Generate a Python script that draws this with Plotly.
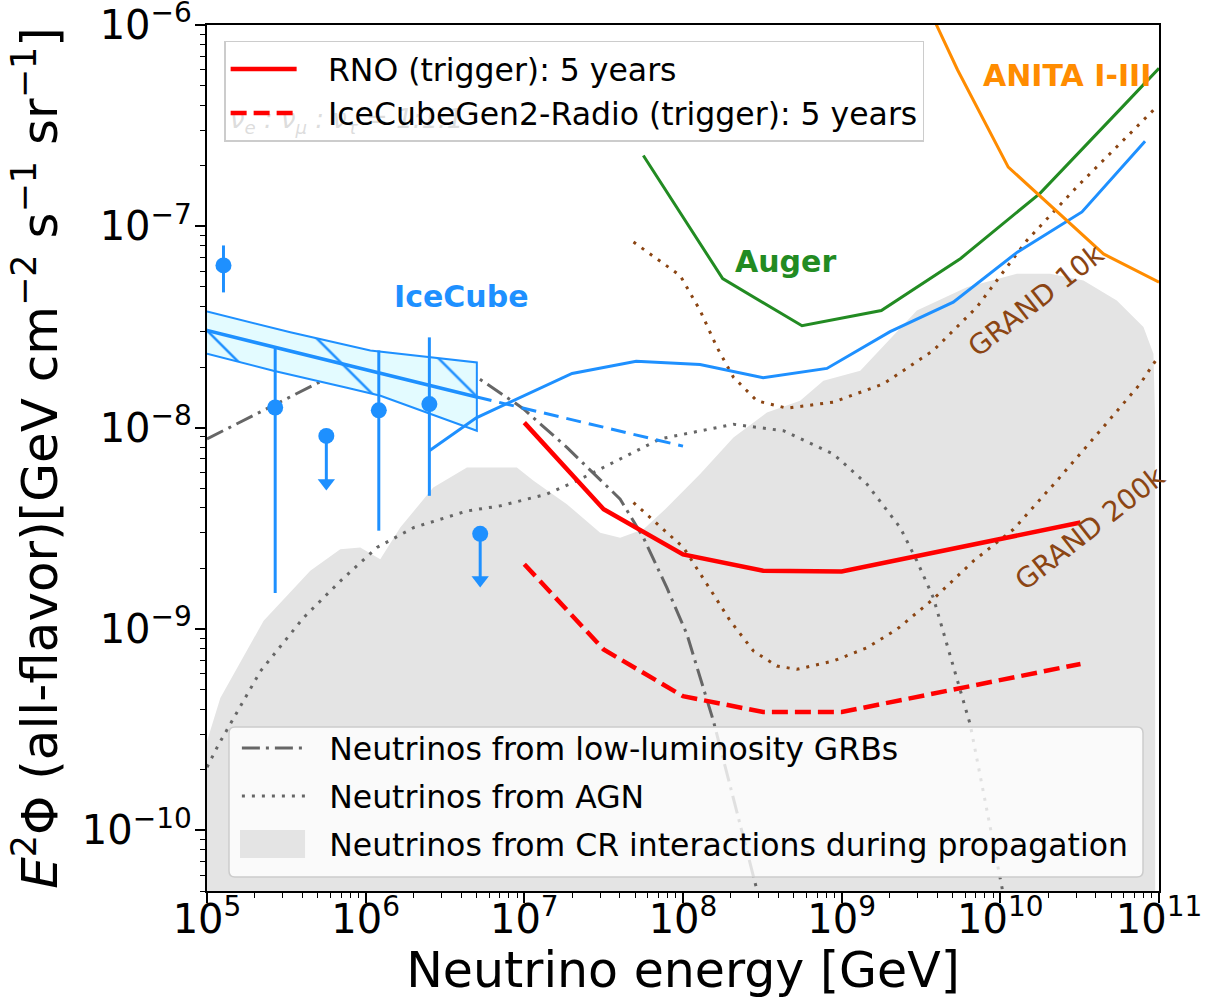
import numpy as np
import plotly.graph_objects as go

# ---------------- data ----------------
# IceCube measured points with error bars
ic_pts_E = [1.27e5, 2.69e5, 1.21e6, 2.52e6]
ic_pts_F = [6.4e-8, 1.26e-8, 1.22e-8, 1.31e-8]
ic_pts_hi = [8.04e-8, 2.47e-8, 2.42e-8, 2.81e-8]
ic_pts_lo = [4.70e-8, 1.51e-9, 3.08e-9, 4.59e-9]
# IceCube upper limits (value, arrow tip)
ic_ul_E = [5.65e5, 5.27e6]
ic_ul_F = [9.1e-9, 2.97e-9]
ic_ul_arrow = [5.32e-9, 1.75e-9]

# IceCube astrophysical fit band
band_up_E = [1e5, 3.35e5, 1.07e6, 5.02e6]
band_up_F = [3.78e-8, 2.98e-8, 2.42e-8, 2.11e-8]
band_lo_E = [1e5, 2.62e5, 7.62e5, 1.24e6, 5.02e6]
band_lo_F = [2.33e-8, 1.92e-8, 1.58e-8, 1.44e-8, 9.66e-9]
fit_E = [1e5, 5.02e6]
fit_F = [3.04e-8, 1.42e-8]
fit_ext_E = [5.02e6, 1e8]
fit_ext_F = [1.42e-8, 8.1e-9]

# IceCube EHE limit
ehe_E = [2.52e6, 4.98e6, 2.0e7, 5.07e7, 1.28e8, 3.2e8, 8.07e8, 2.02e9, 5.05e9, 1.28e10, 3.27e10, 8.17e10]
ehe_F = [7.69e-9, 1.12e-8, 1.86e-8, 2.14e-8, 2.06e-8, 1.77e-8, 1.97e-8, 3.0e-8, 4.2e-8, 7.45e-8, 1.18e-7, 2.65e-7]

# Auger limit
auger_E = [10**7.75, 10**8.25, 10**8.75, 10**9.25, 10**9.75, 10**10.25, 10**10.75, 1e11]
auger_F = [2.25e-7, 5.5e-8, 3.21e-8, 3.82e-8, 6.93e-8, 1.46e-7, 3.78e-7, 6.1e-7]

# ANITA I-III limit
anita_E = [10**9.5, 10**9.73, 10**10.05, 10**10.65, 1e11]
anita_F = [1.46e-6, 6.0e-7, 1.97e-7, 7.3e-8, 5.28e-8]

# RNO and IceCube-Gen2 radio sensitivities
rno_E = [1e7, 3.16e7, 1e8, 3.2e8, 1e9, 3.2e10]
rno_F = [1.06e-8, 3.94e-9, 2.35e-9, 1.95e-9, 1.93e-9, 3.38e-9]
gen2_E = [1e7, 3.16e7, 1e8, 3.2e8, 1e9, 3.2e10]
gen2_F = [2.10e-9, 7.92e-10, 4.64e-10, 3.87e-10, 3.87e-10, 6.71e-10]

# GRAND sensitivities
grand10k_E = [10**7.688, 10**7.982, 10**8.108, 10**8.214, 10**8.318, 10**8.466, 10**8.655,
              10**8.948, 10**9.263, 10**9.578, 10**9.852, 10**10.167, 10**10.482, 10**10.797, 10**10.986]
grand10k_F = [8.36e-8, 5.70e-8, 3.82e-8, 2.51e-8, 1.78e-8, 1.36e-8, 1.25e-8,
              1.34e-8, 1.65e-8, 2.42e-8, 3.97e-8, 8.51e-8, 1.57e-7, 2.78e-7, 3.93e-7]
grand200k_E = [10**7.688, 10**8.003, 10**8.151, 10**8.297, 10**8.444, 10**8.592, 10**8.718,
               10**8.948, 10**9.159, 10**9.348, 10**9.578, 10**9.831, 10**10.083, 10**10.356,
               10**10.629, 10**10.881, 1e11]
grand200k_F = [4.25e-9, 2.54e-9, 1.67e-9, 1.10e-9, 7.78e-10, 6.55e-10, 6.31e-10,
               6.94e-10, 8.07e-10, 9.97e-10, 1.41e-9, 2.18e-9, 3.13e-9, 5.45e-9,
               9.66e-9, 1.65e-8, 2.28e-8]

# Neutrinos from low-luminosity GRBs
grb_E = [1e5, 10**5.725, 10**6.218, 10**6.701, 10**6.922, 10**6.995, 10**7.268, 10**7.604,
         10**7.751, 10**7.899, 10**8.025, 10**8.192, 10**8.55]
grb_F = [8.8e-9, 1.71e-8, 1.88e-8, 1.78e-8, 1.36e-8, 1.24e-8, 7.98e-9, 4.42e-9,
         2.84e-9, 1.60e-9, 9.41e-10, 3.49e-10, 2.8e-11]

# Neutrinos from AGN
agn_E = [1e5, 10**5.073, 10**5.337, 10**5.609, 10**5.84, 10**6.071, 10**6.302, 10**6.638,
         10**6.848, 10**7.142, 10**7.331, 10**7.856, 10**8.318, 10**8.633, 10**8.948,
         10**9.159, 10**9.369, 10**9.474, 10**9.578, 10**9.684, 10**9.81, 10**10.011, 10**10.04]
agn_F = [2.06e-10, 2.67e-10, 6.18e-10, 1.14e-9, 1.73e-9, 2.54e-9, 3.19e-9, 3.86e-9,
         4.09e-9, 4.68e-9, 5.45e-9, 8.8e-9, 1.04e-8, 9.66e-9, 7.40e-9,
         5.25e-9, 3.19e-9, 2.18e-9, 1.43e-9, 7.48e-10, 3.36e-10, 5.17e-11, 3.5e-11]

# Neutrinos from CR interactions during propagation (upper edge of shaded band)
cr_E = [1e5, 10**5.084, 10**5.357, 10**5.651, 10**5.84, 10**5.966, 10**6.092, 10**6.218,
        10**6.426, 10**6.638, 10**6.953, 10**7.058, 10**7.268, 10**7.478, 10**7.604,
        10**7.751, 10**7.899, 10**8.108, 10**8.318, 10**8.529, 10**8.738, 10**8.885,
        10**9.117, 10**9.474, 10**9.789, 10**10.104, 10**10.314, 10**10.524, 10**10.734,
        10**10.902, 10**10.965, 10**10.976]
cr_F = [2.77e-10, 4.54e-10, 1.10e-9, 1.95e-9, 2.49e-9, 2.54e-9, 2.22e-9, 3.19e-9,
        5.05e-9, 6.35e-9, 6.35e-9, 5.45e-9, 4.17e-9, 3.01e-9, 2.84e-9,
        3.13e-9, 4.01e-9, 5.89e-9, 8.95e-9, 1.19e-8, 1.36e-8, 1.71e-8,
        1.92e-8, 3.82e-8, 4.99e-8, 5.82e-8, 5.82e-8, 5.39e-8, 4.28e-8,
        3.16e-8, 2.33e-8, 1.08e-8]
cr_floor = 1e-12

# text labels: (text, E, flux)
lbl_icecube = ("IceCube", 10**6.602, 10**-7.348)
lbl_auger = ("Auger", 10**8.644, 10**-7.174)
lbl_anita = ("ANITA I-III", 10**10.421, 10**-6.249)
lbl_g10k = ("GRAND 10k", 10**10.225, 10**-7.37)
lbl_g200k = ("GRAND 200k", 10**10.566, 10**-8.502)
lbl_flavor = ("<i>ν<sub>e</sub> : ν<sub>μ</sub> : ν<sub>τ</sub> = 1:1:1</i>", 10**5.88, 10**-6.48)

# legend names
name_rno = "RNO (trigger): 5 years"
name_gen2 = "IceCubeGen2-Radio (trigger): 5 years"
name_grb = "Neutrinos from low-luminosity GRBs"
name_agn = "Neutrinos from AGN"
name_cr = "Neutrinos from CR interactions during propagation"

# ---------------- styles ----------------
BLUE = "#1E90FF"
RED = "#FF0000"
GREEN = "#228B22"
ORANGE = "#FF8C00"
BROWN = "#8B4513"
GREY = "#666666"
CRGREY = "#e4e4e4"
FONT = "DejaVu Sans"
PAD = "\u00a0\u00a0\u2009"   # gap between legend sample and text (upper legend)
PAD2 = "\u00a0\u2009"        # gap for the lower legend

fig = go.Figure()

# flavour-ratio note (sits in the plot layer, beneath the translucent legend)
fig.add_trace(go.Scatter(
    x=[lbl_flavor[1]], y=[lbl_flavor[2]], mode="text", text=[lbl_flavor[0]],
    textposition="middle center", textfont=dict(family=FONT, size=26, color="#555555"),
    showlegend=False, hoverinfo="skip"))

# CR band
fig.add_trace(go.Scatter(
    x=cr_E + [cr_E[-1], cr_E[0]], y=cr_F + [cr_floor, cr_floor],
    mode="lines", fill="toself", fillcolor=CRGREY, line=dict(width=0, color=CRGREY),
    showlegend=False, hoverinfo="skip"))

# GRB
fig.add_trace(go.Scatter(
    x=grb_E, y=grb_F, mode="lines",
    line=dict(color=GREY, width=3, dash="18px,6px,3px,6px"),
    name=PAD2 + name_grb, legend="legend2", legendrank=1, legendgroup="a"))

# AGN
fig.add_trace(go.Scatter(
    x=agn_E, y=agn_F, mode="lines",
    line=dict(color=GREY, width=3, dash="3px,7px"),
    name=PAD2 + name_agn, legend="legend2", legendrank=2, legendgroup="b"))

# legend entry for the CR band (its swatch is the grey box drawn as a shape below)
fig.add_trace(go.Scatter(
    x=[None], y=[None], mode="lines", line=dict(color="rgba(0,0,0,0)", width=10),
    name=PAD2 + name_cr, legend="legend2", legendrank=3, legendgroup="c"))

# GRAND
fig.add_trace(go.Scatter(x=grand10k_E, y=grand10k_F, mode="lines",
                         line=dict(color=BROWN, width=3, dash="3px,7px"), showlegend=False))
fig.add_trace(go.Scatter(x=grand200k_E, y=grand200k_F, mode="lines",
                         line=dict(color=BROWN, width=3, dash="3px,7px"), showlegend=False))

# IceCube band
fig.add_trace(go.Scatter(
    x=band_up_E + band_lo_E[::-1], y=band_up_F + band_lo_F[::-1],
    mode="lines", fill="toself", fillcolor="#e3fbff",
    fillpattern=dict(shape="\\", fgcolor=BLUE, bgcolor="#e3fbff", size=72, solidity=0.035, fillmode="replace"),
    line=dict(color=BLUE, width=2), showlegend=False))
fig.add_trace(go.Scatter(x=fit_E, y=fit_F, mode="lines", line=dict(color=BLUE, width=3.5), showlegend=False))
fig.add_trace(go.Scatter(x=fit_ext_E, y=fit_ext_F, mode="lines",
                         line=dict(color=BLUE, width=3, dash="15px,8px"), showlegend=False))

# IceCube EHE
fig.add_trace(go.Scatter(x=ehe_E, y=ehe_F, mode="lines", line=dict(color=BLUE, width=3), showlegend=False))

# Auger, ANITA
fig.add_trace(go.Scatter(x=auger_E, y=auger_F, mode="lines", line=dict(color=GREEN, width=3), showlegend=False))
fig.add_trace(go.Scatter(x=anita_E, y=anita_F, mode="lines", line=dict(color=ORANGE, width=3), showlegend=False))

# IceCube points
fig.add_trace(go.Scatter(
    x=ic_pts_E, y=ic_pts_F, mode="markers",
    marker=dict(color=BLUE, size=16),
    error_y=dict(type="data", symmetric=False,
                 array=[h - f for h, f in zip(ic_pts_hi, ic_pts_F)],
                 arrayminus=[f - l for f, l in zip(ic_pts_F, ic_pts_lo)],
                 color=BLUE, thickness=3, width=0),
    showlegend=False))
fig.add_trace(go.Scatter(
    x=ic_ul_E, y=ic_ul_F, mode="markers",
    marker=dict(color=BLUE, size=16),
    error_y=dict(type="data", symmetric=False, array=[0, 0],
                 arrayminus=[f - a for f, a in zip(ic_ul_F, ic_ul_arrow)],
                 color=BLUE, thickness=3, width=0),
    showlegend=False))
fig.add_trace(go.Scatter(
    x=ic_ul_E, y=ic_ul_arrow, mode="markers",
    marker=dict(color=BLUE, size=15, symbol="triangle-down"), showlegend=False))

# RNO / Gen2
fig.add_trace(go.Scatter(x=rno_E, y=rno_F, mode="lines", line=dict(color=RED, width=4.5),
                         name=PAD + name_rno, legend="legend", legendrank=1))
fig.add_trace(go.Scatter(x=gen2_E, y=gen2_F, mode="lines", line=dict(color=RED, width=4.5, dash="16px,7px"),
                         name=PAD + name_gen2, legend="legend", legendrank=2))

# ---------------- annotations ----------------
def ann(lbl, color, size, bold=False, angle=0):
    t, xe, ye = lbl
    if bold:
        t = "<b>" + t + "</b>"
    return dict(text=t, x=np.log10(xe), y=np.log10(ye), xref="x", yref="y",
                showarrow=False, textangle=angle,
                font=dict(family=FONT, size=size, color=color),
                xanchor="center", yanchor="middle")

annotations = [
    ann(lbl_icecube, BLUE, 30, bold=True),
    ann(lbl_auger, GREEN, 30, bold=True),
    ann(lbl_anita, ORANGE, 30, bold=True),
    ann(lbl_g10k, BROWN, 28, angle=-38),
    ann(lbl_g200k, BROWN, 28, angle=-38),
]

# ---------------- lower legend frame + CR swatch (paper coords) ----------------
def rounded_box(x0, y0, x1, y1, rx, ry):
    return (f"M{x0+rx},{y0} L{x1-rx},{y0} Q{x1},{y0} {x1},{y0+ry} "
            f"L{x1},{y1-ry} Q{x1},{y1} {x1-rx},{y1} L{x0+rx},{y1} "
            f"Q{x0},{y1} {x0},{y1-ry} L{x0},{y0+ry} Q{x0},{y0} {x0+rx},{y0} Z")

shapes = [
    dict(type="path", xref="paper", yref="paper", layer="above",
         path=rounded_box(0.0231, 0.0162, 0.9832, 0.1894, 0.0063, 0.0069),
         fillcolor="rgba(255,255,255,0.8)", line=dict(color="#cccccc", width=1.5)),
    dict(type="rect", xref="paper", yref="paper", layer="above",
         x0=0.0347, x1=0.1030, y0=0.0381, y1=0.0704,
         fillcolor=CRGREY, line=dict(width=0)),
]

axis_common = dict(
    type="log", showline=True, linecolor="black", linewidth=1.5, mirror=True,
    ticks="outside", ticklen=10, tickwidth=1.5, tickcolor="black",
    showgrid=False, zeroline=False, exponentformat="power", dtick=1,
    automargin=False, ticklabeloverflow="allow",
    tickfont=dict(family=FONT, size=32, color="black"),
    minor=dict(ticks="outside", ticklen=5, tickwidth=1, tickcolor="black", dtick="D1", showgrid=False),
)

legend_common = dict(
    font=dict(family=FONT, size=31.5, color="black"), itemwidth=66,
    xanchor="left",
)

fig.update_layout(
    width=1212, height=1000,
    margin=dict(l=207, r=53, t=25, b=109),
    paper_bgcolor="white", plot_bgcolor="white",
    xaxis=dict(axis_common, range=[5, 11], ticklabelstandoff=-16,
               title=dict(text="Neutrino energy [GeV]", font=dict(family=FONT, size=49, color="black"), standoff=9)),
    yaxis=dict(axis_common, range=[np.log10(5e-11), -5.9998], ticklabelstandoff=-3,
               title=dict(text="<i>E</i><sup>2</sup>Φ (all-flavor)[GeV cm<sup>−2</sup> s<sup>−1</sup> sr<sup>−1</sup>]",
                          font=dict(family=FONT, size=50, color="black"), standoff=8)),
    legend=dict(legend_common, x=0.018, y=0.982, yanchor="top", traceorder="normal",
                bgcolor="rgba(255,255,255,0.8)", bordercolor="#cccccc", borderwidth=1.5),
    legend2=dict(legend_common, x=0.0314, y=0.1963, yanchor="top", traceorder="grouped",
                 tracegroupgap=4, bgcolor="rgba(0,0,0,0)", borderwidth=0),
    annotations=annotations,
    shapes=shapes,
    showlegend=True,
)

fig.write_html("out.html")
